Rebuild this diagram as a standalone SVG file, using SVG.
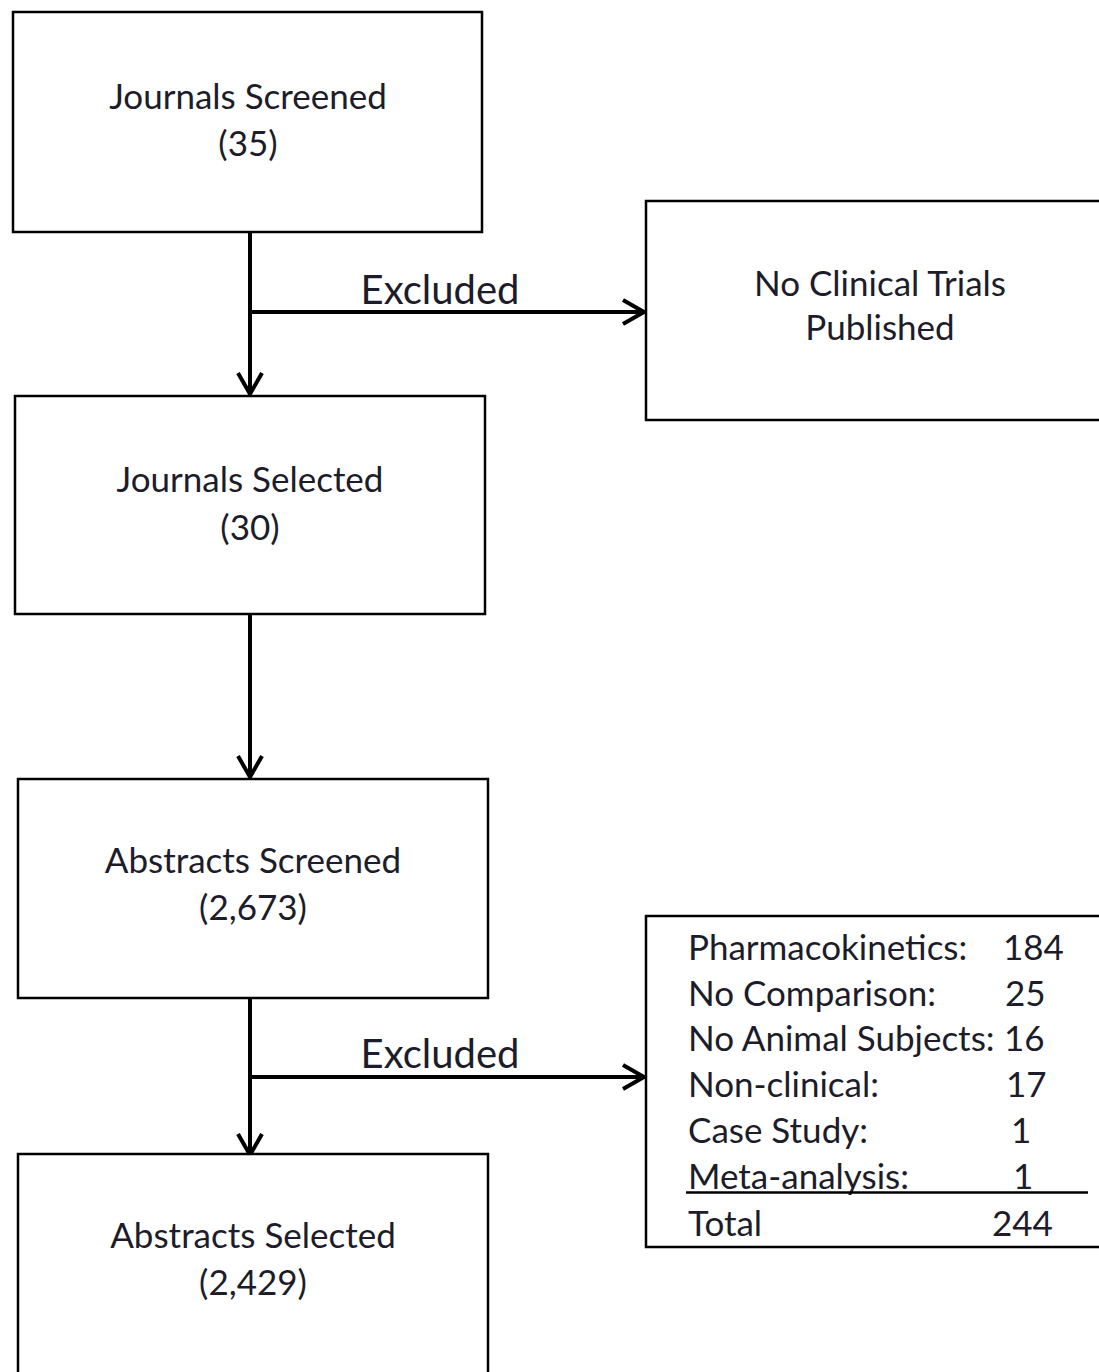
<svg xmlns="http://www.w3.org/2000/svg" width="1099" height="1372" viewBox="0 0 1099 1372">
<defs>
<style>
.box{fill:#fff;stroke:#000;stroke-width:2.5}
.t{font-family:Lato,"Open Sans","Liberation Sans",sans-serif;font-size:35px;fill:#1c1c2a}
.c{text-anchor:middle}
.lbl{font-size:40px}
.ln{stroke:#000;stroke-width:4;fill:none}
</style>
<marker id="ah" viewBox="0 0 30 30" refX="25" refY="15" markerWidth="30" markerHeight="30" markerUnits="userSpaceOnUse" orient="auto">
<polyline points="4,3 25,15 4,27" fill="none" stroke="#000" stroke-width="4"/>
</marker>
</defs>
<rect width="1099" height="1372" fill="#fff"/>
<g id="connectors">
<line class="ln" x1="250" y1="233" x2="250" y2="394" marker-end="url(#ah)"/>
<line class="ln" x1="250" y1="312" x2="644" y2="312" marker-end="url(#ah)"/>
<text class="t lbl" x="440" y="304" text-anchor="middle">Excluded</text>
<line class="ln" x1="250" y1="615" x2="250" y2="777" marker-end="url(#ah)"/>
<line class="ln" x1="250" y1="999" x2="250" y2="1155" marker-end="url(#ah)"/>
<line class="ln" x1="250" y1="1077" x2="644" y2="1077" marker-end="url(#ah)"/>
<text class="t lbl" x="440" y="1068" text-anchor="middle">Excluded</text>
</g>
<g id="journals-screened">
<rect class="box" x="13" y="12" width="469" height="220"/>
<text class="t c" x="248" y="109">Journals Screened</text>
<text class="t c" x="248" y="156">(35)</text>
</g>
<g id="no-clinical-trials">
<rect class="box" x="646" y="201" width="460" height="219"/>
<text class="t c" x="880" y="296">No Clinical Trials</text>
<text class="t c" x="880" y="340">Published</text>
</g>
<g id="journals-selected">
<rect class="box" x="15" y="396" width="470" height="218"/>
<text class="t c" x="250" y="492">Journals Selected</text>
<text class="t c" x="250" y="540">(30)</text>
</g>
<g id="abstracts-screened">
<rect class="box" x="18" y="779" width="470" height="219"/>
<text class="t c" x="253" y="873">Abstracts Screened</text>
<text class="t c" x="253" y="920">(2,673)</text>
</g>
<g id="abstracts-selected">
<rect class="box" x="18" y="1154" width="470" height="240"/>
<text class="t c" x="253" y="1248">Abstracts Selected</text>
<text class="t c" x="253" y="1295">(2,429)</text>
</g>
<g id="exclusion-reasons">
<rect class="box" x="646" y="916" width="460" height="331"/>
<text class="t" x="688" y="960">Pharmacokinetics:</text><text class="t" x="1003" y="960">184</text>
<text class="t" x="688" y="1006">No Comparison:</text><text class="t" x="1005" y="1006">25</text>
<text class="t" x="688" y="1051">No Animal Subjects:</text><text class="t" x="1004" y="1051">16</text>
<text class="t" x="688" y="1097">Non-clinical:</text><text class="t" x="1006" y="1097">17</text>
<text class="t" x="688" y="1143">Case Study:</text><text class="t" x="1011" y="1143">1</text>
<text class="t" x="688" y="1189">Meta-analysis:</text><text class="t" x="1013" y="1189">1</text>
<line x1="686" y1="1192.5" x2="1088" y2="1192.5" stroke="#000" stroke-width="2.5"/>
<text class="t" x="688" y="1236">Total</text><text class="t" x="992" y="1236">244</text>
</g>
</svg>
